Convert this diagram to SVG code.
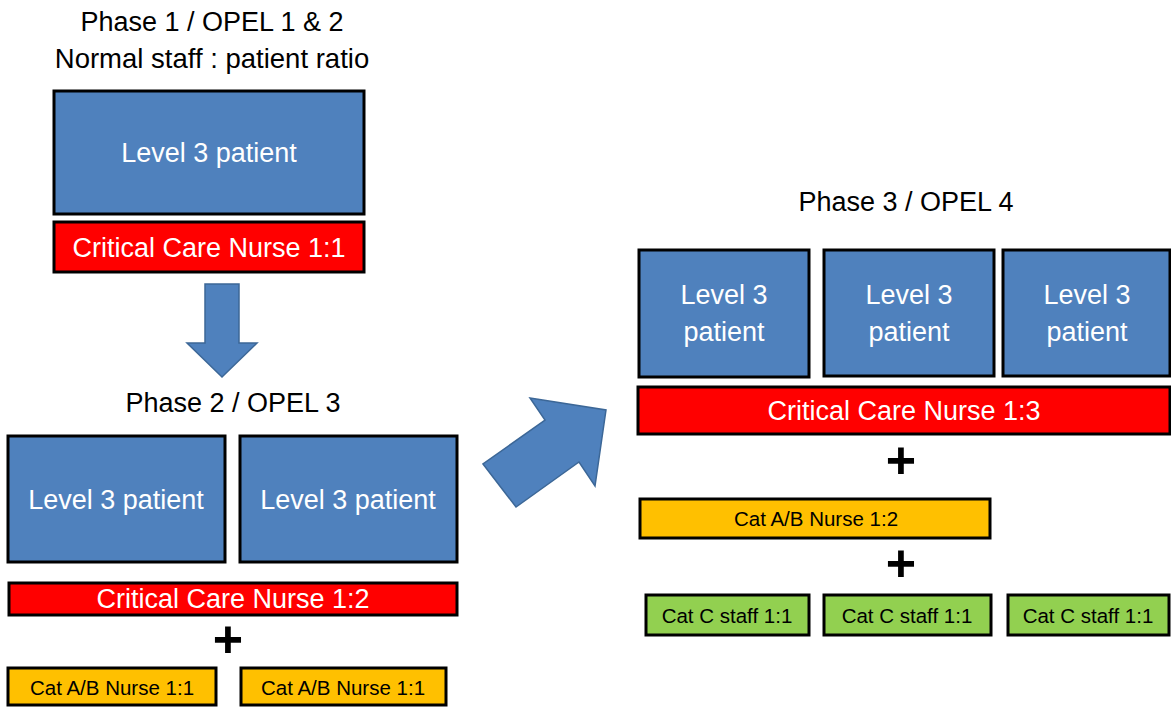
<svg xmlns="http://www.w3.org/2000/svg" width="1171" height="707" viewBox="0 0 1171 707">
<style>
.t{font-family:"Liberation Sans",Arial,sans-serif;text-anchor:middle}
.title{font-size:27px;fill:#000}
.title2{font-size:27.5px;fill:#000}
.big{font-size:27px;fill:#fff}
.small{font-size:20.5px;fill:#000}
.blue{fill:#4F81BD;stroke:#000;stroke-width:3}
.red{fill:#FF0000;stroke:#000;stroke-width:3}
.orange{fill:#FFC000;stroke:#000;stroke-width:3}
.green{fill:#92D050;stroke:#000;stroke-width:3}
.arrow{fill:#4F81BD;stroke:#3C6797;stroke-width:1.5}
.plus{font-size:52px;font-weight:bold;fill:#000}
</style>
<rect width="1171" height="707" fill="#fff"/>
<g id="titles">
<text class="t title" x="212" y="31">Phase 1 / OPEL 1 &amp; 2</text>
<text class="t title2" x="212" y="68">Normal staff : patient ratio</text>
<text class="t title" x="233" y="412">Phase 2 / OPEL 3</text>
<text class="t title" x="906" y="211">Phase 3 / OPEL 4</text>
</g>
<g id="connectors">
<polygon class="arrow" points="205,284 239,284 239,343 257,343 222,377 187,343 205,343"/>
<polygon class="arrow" points="483,464 516,507 579,462 595,486 606,410 530,398 545,420"/>
</g>
<g id="p1-patient"><rect class="blue" x="54" y="91" width="310" height="123"/><text class="t big" x="209" y="162">Level 3 patient</text></g>
<g id="p1-nurse"><rect class="red" x="54" y="222" width="310" height="50"/><text class="t big" x="209" y="257">Critical Care Nurse 1:1</text></g>
<g id="p2-patient1"><rect class="blue" x="8" y="436" width="217" height="126"/><text class="t big" x="116" y="509">Level 3 patient</text></g>
<g id="p2-patient2"><rect class="blue" x="240" y="436" width="217" height="126"/><text class="t big" x="348" y="509">Level 3 patient</text></g>
<g id="p2-nurse"><rect class="red" x="9" y="583" width="448" height="32"/><text class="t big" x="233" y="608">Critical Care Nurse 1:2</text></g>
<g id="p2-plus"><text class="t plus" x="228" y="657">+</text></g>
<g id="p2-ab1"><rect class="orange" x="8" y="668" width="208" height="37"/><text class="t small" x="112" y="695">Cat A/B Nurse 1:1</text></g>
<g id="p2-ab2"><rect class="orange" x="241" y="668" width="205" height="37"/><text class="t small" x="343" y="695">Cat A/B Nurse 1:1</text></g>
<g id="p3-patient1"><rect class="blue" x="639" y="250" width="170" height="127"/><text class="t big" x="724" y="304">Level 3</text><text class="t big" x="724" y="341">patient</text></g>
<g id="p3-patient2"><rect class="blue" x="824" y="250" width="170" height="126"/><text class="t big" x="909" y="304">Level 3</text><text class="t big" x="909" y="341">patient</text></g>
<g id="p3-patient3"><rect class="blue" x="1003" y="250" width="167" height="126"/><text class="t big" x="1087" y="304">Level 3</text><text class="t big" x="1087" y="341">patient</text></g>
<g id="p3-nurse"><rect class="red" x="638" y="387" width="532" height="47"/><text class="t big" x="904" y="420">Critical Care Nurse 1:3</text></g>
<g id="p3-plus1"><text class="t plus" x="901" y="478">+</text></g>
<g id="p3-ab"><rect class="orange" x="640" y="499" width="350" height="39"/><text class="t small" x="816" y="526">Cat A/B Nurse 1:2</text></g>
<g id="p3-plus2"><text class="t plus" x="901" y="581">+</text></g>
<g id="p3-c1"><rect class="green" x="646" y="595" width="163" height="40"/><text class="t small" x="727" y="623">Cat C staff 1:1</text></g>
<g id="p3-c2"><rect class="green" x="824" y="595" width="167" height="40"/><text class="t small" x="907" y="623">Cat C staff 1:1</text></g>
<g id="p3-c3"><rect class="green" x="1008" y="595" width="161" height="40"/><text class="t small" x="1088" y="623">Cat C staff 1:1</text></g>
</svg>
